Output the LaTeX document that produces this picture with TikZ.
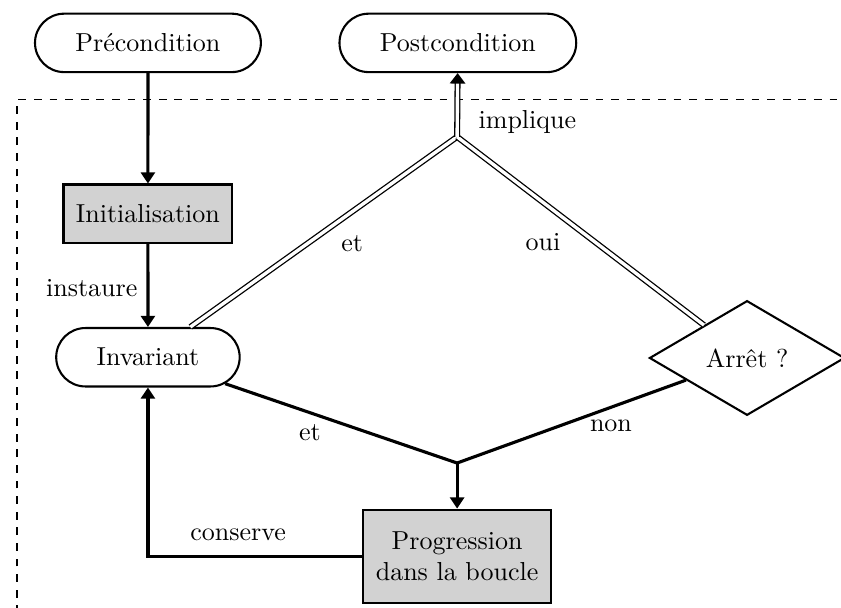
\documentclass[tikz,border=0pt]{standalone}
\usepackage{tikz}
\usetikzlibrary{arrows.meta,shapes.misc,shapes.geometric}

\begin{document}
\begin{tikzpicture}
            \useasboundingbox (0,0) rectangle (11.37,-8.21);
            \draw [dashed] (0.23,-8.5) |- (11.7,-1.35);

            \begin{scope}[every node/.style={rounded rectangle,thick,draw,minimum height=0.79cm,inner xsep=15pt}]
                \node (pre) at (2.00,-0.58) {Précondition};
                \node (post) at (6.19,-0.58) {Postcondition};
                \node (inv) at (2.00,-4.83) {Invariant};
            \end{scope}

            \begin{scope}[every node/.style={fill=gray!35,thick,draw,minimum height=0.79cm,inner xsep=4.8pt,align=center}]
                \node (init) at (2.00,-2.89) {Initialisation};
                \node (prog) [minimum height=1.26cm] at (6.18,-7.52) {Progression\\dans la boucle};
            \end{scope}

            \node (arret) [diamond,thick,draw,inner sep=0pt,minimum width=2.64cm,minimum height=1.55cm] at (10.10,-4.84) {Arrêt ?};
            \coordinate (haut) at (6.18,-1.85);
            \coordinate (bas) at (6.18,-6.26);

            \begin{scope}[>={Triangle[length=4.3pt,width=5.4pt]},
                          every edge/.style={draw=black,very thick}]
                \path [->] (pre) edge (init);
                \path [->] (init) edge (inv);
                \path (inv) edge (bas);
                \path (arret) edge (bas);
                \path [->] (bas) edge (prog);
                \draw [->,very thick] (prog) -| (inv);
            \end{scope}

            \begin{scope}[every edge/.style={draw=black,double,line width=0.5pt,double distance=1.3pt}]
                \path (inv) edge (haut);
                \path (arret) edge (haut);
                \path [-{Triangle[length=4pt,width=6pt]}] (haut) edge (post);
            \end{scope}

            \node (l-impl) at (7.13,-1.65) {implique};
            \node (l-et1) at (4.76,-3.30) {et};
            \node (l-oui) at (7.34,-3.27) {oui};
            \node (l-inst) at (1.24,-3.89) {instaure};
            \node (l-et2) at (4.19,-5.85) {et};
            \node (l-non) at (8.26,-5.76) {non};
            \node (l-cons) at (3.22,-7.23) {conserve};
\end{tikzpicture}
\end{document}
